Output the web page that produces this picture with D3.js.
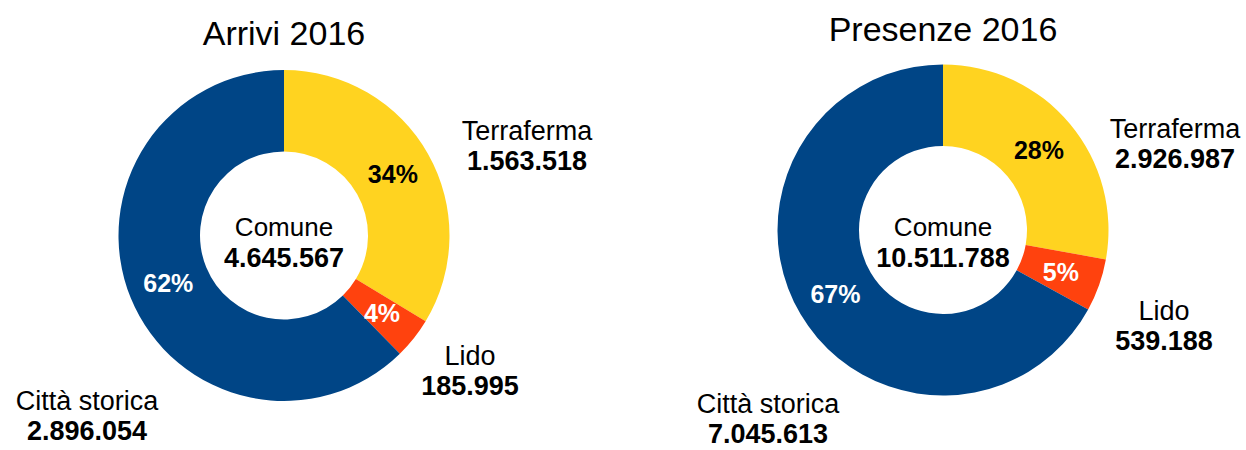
<html>
<head>
    <meta charset="utf-8">
    <title>Arrivi e Presenze 2016</title>
    <script src="https://d3js.org/d3.v7.min.js"></script>
    <style>
        body { margin: 0; background: #fff; }
        text { font-family: "Liberation Sans", Arial, sans-serif; }
    </style>
</head>
<body>
<script>
    // data
    var categories = ['Terraferma', 'Lido', 'Città storica'];
    var arrivi = [1563518, 185995, 2896054];
    var presenze = [2926987, 539188, 7045613];
    var titles = ['Arrivi 2016', 'Presenze 2016'];
    var colors = ['#ffd320', '#ff420e', '#004586'];

    var width = 1246, height = 450;

    var svg = d3.select('body')
        .append('svg')
        .attr('width', width)
        .attr('height', height);

    var fmt = d3.formatLocale({ decimal: ',', thousands: '.', grouping: [3], currency: ['', ''] }).format(',d');

    // layout for each donut: centre, title baseline, centre text baseline, category label positions
    var charts = [
        { values: arrivi, title: titles[0], cx: 284, cy: 235.5, titleY: 45, midY: 236,
          labels: [[527, 140], [470, 365], [87, 410]] },
        { values: presenze, title: titles[1], cx: 943, cy: 230, titleY: 41, midY: 236,
          labels: [[1175, 138], [1164, 320], [768, 413]] }
    ];

    var outerR = 165.5, innerR = 84;
    var pctColors = ['#000', '#fff', '#fff'];

    charts.forEach(function (c) {
        var total = d3.sum(c.values);
        var pie = d3.pie().sort(null).value(function (d) { return d; });
        var arc = d3.arc().innerRadius(innerR).outerRadius(outerR);
        var labelArc = d3.arc().innerRadius(125).outerRadius(125);

        var g = svg.append('g').attr('transform', 'translate(' + c.cx + ',' + c.cy + ')');
        var arcs = pie(c.values);

        g.selectAll('path')
            .data(arcs)
            .enter()
            .append('path')
            .attr('d', arc)
            .attr('fill', function (d, i) { return colors[i]; });

        g.selectAll('text.pct')
            .data(arcs)
            .enter()
            .append('text')
            .attr('class', 'pct')
            .attr('x', function (d) { return labelArc.centroid(d)[0]; })
            .attr('y', function (d) { return labelArc.centroid(d)[1] + 9; })
            .attr('text-anchor', 'middle')
            .attr('font-size', 25)
            .attr('font-weight', 'bold')
            .attr('fill', function (d, i) { return pctColors[i]; })
            .text(function (d) { return Math.round(d.data / total * 100) + '%'; });

        // centre total
        svg.append('text')
            .attr('x', c.cx)
            .attr('y', c.midY)
            .attr('text-anchor', 'middle')
            .attr('font-size', 26)
            .text('Comune');
        svg.append('text')
            .attr('x', c.cx)
            .attr('y', c.midY + 31)
            .attr('text-anchor', 'middle')
            .attr('font-size', 27)
            .attr('font-weight', 'bold')
            .text(fmt(total));

        // title
        svg.append('text')
            .attr('x', c.cx)
            .attr('y', c.titleY)
            .attr('text-anchor', 'middle')
            .attr('font-size', 34)
            .text(c.title);

        // category labels
        c.labels.forEach(function (p, i) {
            svg.append('text')
                .attr('x', p[0])
                .attr('y', p[1])
                .attr('text-anchor', 'middle')
                .attr('font-size', 27)
                .text(categories[i]);
            svg.append('text')
                .attr('x', p[0])
                .attr('y', p[1] + 30)
                .attr('text-anchor', 'middle')
                .attr('font-size', 27)
                .attr('font-weight', 'bold')
                .text(fmt(c.values[i]));
        });
    });
</script>
</body>
</html>
